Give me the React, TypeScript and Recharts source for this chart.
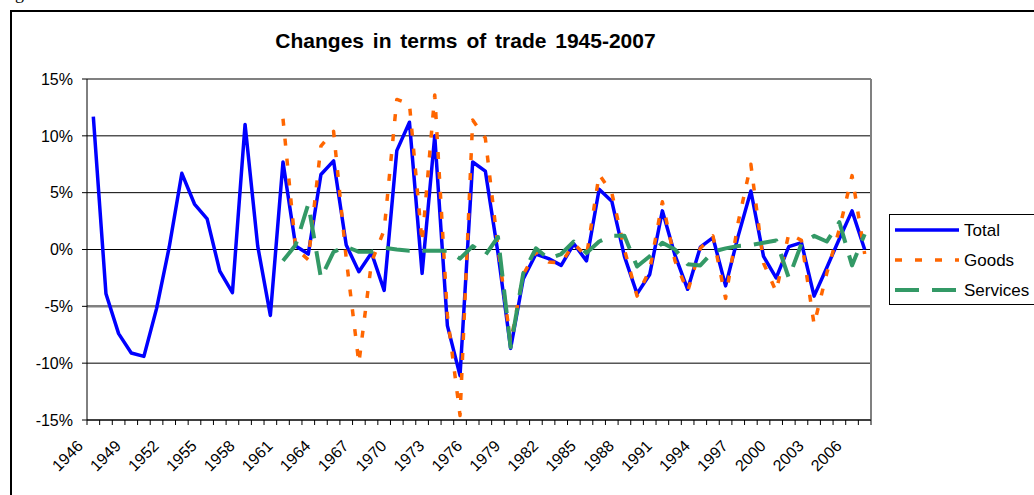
import React from 'react';
import { LineChart, Line, XAxis, YAxis, CartesianGrid, ReferenceLine, Legend } from 'recharts';

const years = [
  1946, 1947, 1948, 1949, 1950, 1951, 1952, 1953, 1954, 1955, 1956, 1957, 1958, 1959, 1960,
  1961, 1962, 1963, 1964, 1965, 1966, 1967, 1968, 1969, 1970, 1971, 1972, 1973, 1974, 1975,
  1976, 1977, 1978, 1979, 1980, 1981, 1982, 1983, 1984, 1985, 1986, 1987, 1988, 1989, 1990,
  1991, 1992, 1993, 1994, 1995, 1996, 1997, 1998, 1999, 2000, 2001, 2002, 2003, 2004, 2005,
  2006, 2007,
];

const total = [
  11.7, -3.9, -7.4, -9.1, -9.4, -5.2, 0.2, 6.7, 4.0, 2.7, -1.9, -3.8, 11.0, 0.3, -5.8,
  7.7, 0.3, -0.4, 6.6, 7.8, 0.4, -1.95, -0.3, -3.6, 8.7, 11.2, -2.1, 10.0, -6.7, -11.1,
  7.7, 6.9, -0.3, -8.7, -2.6, -0.4, -0.8, -1.4, 0.5, -1.0, 5.3, 4.25, -0.6, -3.9, -2.2,
  3.4, -0.5, -3.5, 0.2, 1.05, -3.2, 1.2, 5.15, -0.6, -2.5, 0.25, 0.6, -4.1, -1.6, 0.95,
  3.4, 0.0,
];

const goods = [
  null, null, null, null, null, null, null, null, null, null, null, null, null, null, null,
  11.5, 0.1, -0.9, 9.1, 10.4, -0.8, -10.0, -1.1, 1.7, 13.2, 12.8, 0.6, 13.6, -5.8, -14.6,
  11.4, 9.8, 0.2, -8.2, -2.2, -0.2, -1.1, -1.2, 0.5, -0.6, 6.6, 5.0, 0.0, -4.1, -1.8,
  4.2, -1.0, -3.7, 0.1, 1.2, -4.3, 2.4, 7.5, -1.2, -3.7, 1.4, 0.8, -6.6, -2.1, 1.8,
  6.5, -0.4,
];

const services = [
  null, null, null, null, null, null, null, null, null, null, null, null, null, null, null,
  -1.0, 0.4, 4.0, -2.5, -0.2, 0.25, -0.2, -0.2, 0.15, 0.0, -0.1, -0.1, -0.1, -0.1, -0.8,
  0.3, -0.5, 1.1, -8.6, -2.1, 0.1, -0.8, -0.4, 0.7, -0.3, 0.7, 1.2, 1.2, -1.5, -0.6,
  0.6, 0.0, -1.3, -1.4, -0.2, 0.1, 0.3, 0.4, 0.6, 0.8, -2.5, 0.5, 1.2, 0.7, 2.4,
  -1.4, 1.35,
];

const yTicks = [-15, -10, -5, 0, 5, 10, 15];

const seriesStyle = [
  { key: 'total', name: 'Total', color: '#0000FF', width: 3.5, dash: undefined as string | undefined },
  { key: 'goods', name: 'Goods', color: '#FF6600', width: 3.5, dash: '7 13' },
  { key: 'services', name: 'Services', color: '#339966', width: 4, dash: '24 13' },
];

const data = years.map((year, i) => ({
  idx: i,
  year,
  total: total[i],
  goods: goods[i],
  services: services[i],
}));

const boundaryTicks = [...years.map((_, i) => i - 0.5), years.length - 0.5];

const FONT = '"Liberation Sans", Arial, Helvetica, sans-serif';

const XTick = (props: any) => {
  const { x, y, payload } = props;
  const k = Math.round(payload.value + 0.5);
  if (k % 3 !== 0 || k >= years.length) return <g />;
  const ex = x - 3;
  const ey = y + 20;
  return (
    <text
      x={ex}
      y={ey}
      transform={`rotate(-45 ${ex} ${ey})`}
      textAnchor="end"
      fontSize={16}
      fontFamily={FONT}
      fill="#000"
    >
      {years[k]}
    </text>
  );
};

const LegendBox = () => (
  <div
    style={{
      width: 200,
      height: 91,
      border: '1px solid #000',
      boxSizing: 'border-box',
      background: '#fff',
      fontFamily: FONT,
    }}
  >
    <svg width={198} height={89} style={{ display: 'block' }}>
      {seriesStyle.map((s, i) => {
        const cy = 15 + i * 30;
        return (
          <g key={s.key}>
            <line
              x1={5}
              x2={69}
              y1={cy}
              y2={cy}
              stroke={s.color}
              strokeWidth={s.width}
              strokeDasharray={s.dash}
            />
            <text x={74} y={cy} dy="0.36em" fontSize={17} fill="#000" fontFamily={FONT}>
              {s.name}
            </text>
          </g>
        );
      })}
    </svg>
  </div>
);

export default function App() {
  return (
    <div
      style={{
        position: 'fixed',
        left: 0,
        top: 0,
        width: 1034,
        height: 495,
        overflow: 'hidden',
        background: '#fff',
        fontFamily: FONT,
      }}
    >
      <div
        style={{
          position: 'absolute',
          left: 10,
          top: 10,
          width: 1100,
          height: 600,
          borderLeft: '2px solid #000',
          borderTop: '2px solid #000',
        }}
      />
      <svg
        width={1034}
        height={60}
        style={{ position: 'absolute', left: 0, top: 0, pointerEvents: 'none' }}
      >
        <text x={0} y={-1} fontSize={18} fontFamily='"Liberation Serif", "Times New Roman", serif' fill="#000">
          Figure
        </text>
        <text
          x={465.5}
          y={48}
          textAnchor="middle"
          fontSize={21}
          fontWeight="bold"
          fontFamily={FONT}
          fill="#000"
          style={{ wordSpacing: 3 }}
        >
          Changes in terms of trade 1945-2007
        </text>
      </svg>
      <div style={{ position: 'absolute', left: 0, top: 0 }}>
        <LineChart
          width={1034}
          height={495}
          data={data}
          margin={{ top: 79, right: 163, bottom: 15, left: 0 }}
        >
          <CartesianGrid vertical={false} stroke="#000" strokeWidth={1} />
          <XAxis
            dataKey="idx"
            type="number"
            domain={[-0.5, years.length - 0.5]}
            allowDataOverflow
            ticks={boundaryTicks}
            interval={0}
            height={60}
            tick={<XTick />}
            tickSize={5}
            tickLine={{ stroke: '#000' }}
            axisLine={{ stroke: '#000' }}
          />
          <YAxis
            type="number"
            domain={[-15, 15]}
            ticks={yTicks}
            interval={0}
            width={87}
            tickFormatter={(v: number) => `${v}%`}
            tick={{ fontSize: 16, fill: '#000', fontFamily: FONT }}
            tickSize={5}
            tickMargin={9}
            tickLine={{ stroke: '#000' }}
            axisLine={{ stroke: '#000' }}
          />
          <ReferenceLine y={15} stroke="#808080" strokeWidth={2} />
          <ReferenceLine y={-5} stroke="#808080" strokeWidth={2.5} />
          <ReferenceLine x={years.length - 0.5} stroke="#808080" strokeWidth={2} />
          <Legend
            layout="vertical"
            align="center"
            verticalAlign="middle"
            content={() => <LegendBox />}
            wrapperStyle={{ position: 'absolute', left: 889, top: 214, width: 200, height: 91, margin: 0 }}
          />
          {seriesStyle.map((s) => (
            <Line
              key={s.key}
              type="linear"
              dataKey={s.key}
              name={s.name}
              stroke={s.color}
              strokeWidth={s.width}
              strokeDasharray={s.dash}
              strokeLinejoin="round"
              dot={false}
              activeDot={false}
              isAnimationActive={false}
              connectNulls={false}
            />
          ))}
        </LineChart>
      </div>
    </div>
  );
}
